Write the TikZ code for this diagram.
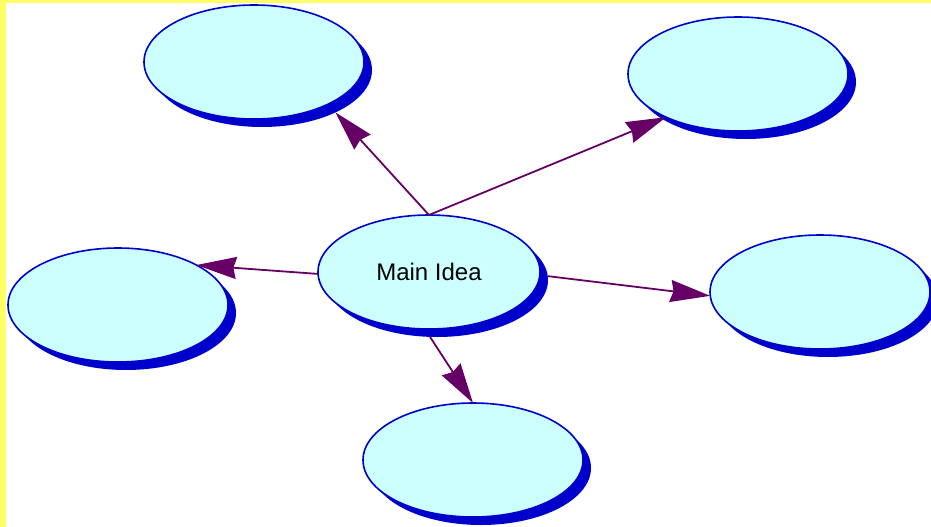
\documentclass[tikz,border=0pt]{standalone}
\usepackage{fontspec}
\setmainfont{Liberation Sans}
\usetikzlibrary{arrows.meta,shapes.geometric,shadows}

\definecolor{bubblefill}{HTML}{CCFFFF}
\definecolor{bubbleblue}{HTML}{0000CC}
\definecolor{linkpurple}{HTML}{660066}
\definecolor{frameyellow}{HTML}{FFFF66}

\begin{document}
\begin{tikzpicture}[
  x=1pt, y=-1pt,
  font=\fontsize{24}{28}\selectfont,
  bubble/.style={draw=bubbleblue, fill=bubblefill, ellipse, line width=1.6pt, minimum width=220pt, minimum height=114pt, inner sep=0pt, outer sep=0pt,
    drop shadow={shadow xshift=8pt, shadow yshift=-8pt, fill=bubbleblue, opacity=1}},
  arrow/.style={-{Stealth[length=40pt, width=22pt, inset=3pt]}, draw=linkpurple, line width=1.8pt},
]
  \useasboundingbox (0,0) rectangle (931,527);
  \fill[frameyellow] (0,0) rectangle (931,3);
  \fill[frameyellow] (0,0) rectangle (6,527);

  \node[bubble, minimum width=222pt] (main) at (429,272) {Main Idea};
  \node[bubble] (upleft) at (254,62) {};
  \node[bubble] (upright) at (738,74) {};
  \node[bubble] (left) at (118,305) {};
  \node[bubble] (right) at (820,292) {};
  \node[bubble] (down) at (473,460) {};

  % arrows leave from / land on the shadow where it sticks out
  \draw[arrow] (main.north) -- ([shift={(8,8)}]upleft.-30);
  \draw[arrow] (main.north) -- (upright.-149);
  \draw[arrow] (main.181) -- (left.27);
  \draw[arrow] ([shift={(8,8)}]main.2) -- (right.182);
  \draw[arrow] ([shift={(8,8)}]main.-97) -- (down.north);
\end{tikzpicture}
\end{document}
